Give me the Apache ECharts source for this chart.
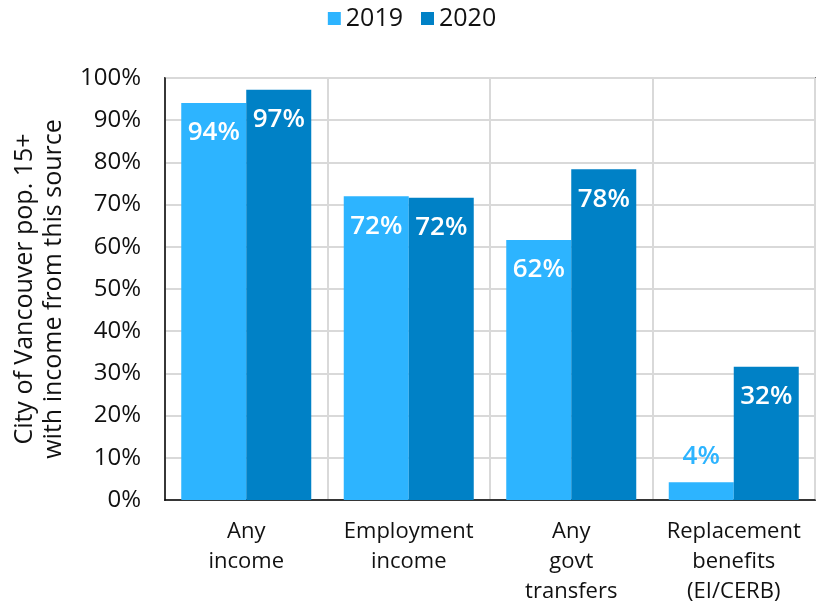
<!DOCTYPE html>
<html><head><meta charset="utf-8">
<script src="https://cdn.jsdelivr.net/npm/echarts@6/dist/echarts.min.js"></script>
<style>html,body{margin:0;padding:0;background:#fff}#c{width:824px;height:604px}</style>
</head><body><div id="c"></div>
<script>
const categories = ['Any\nincome', 'Employment\nincome', 'Any\ngovt\ntransfers', 'Replacement\nbenefits\n(EI/CERB)'];
const seriesNames = ['2019', '2020'];
const values2019 = [94.1, 72.0, 61.6, 4.2];
const values2020 = [97.2, 71.6, 78.4, 31.6];
const yTicks = [0, 10, 20, 30, 40, 50, 60, 70, 80, 90, 100];
const colors = ['#2DB4FF', '#0081C6'];
const FONT = 'Open Sans';

function mkData(vals, color) {
  return vals.map(v => v < 10 ? {
    value: v,
    label: { position: 'top', color: color, distance: 13 }
  } : v);
}

const chart = echarts.init(document.getElementById('c'));
chart.setOption({
  animation: false,
  textStyle: { fontFamily: FONT },
  legend: {
    top: 1, left: 'center',
    itemWidth: 13, itemHeight: 13, itemGap: 18,
    icon: 'rect',
    textStyle: { fontSize: 25, color: '#111', fontFamily: FONT },
    data: seriesNames
  },
  grid: { left: 165, right: 9, top: 78, bottom: 104, show: true, borderColor: '#000', borderWidth: 1.5, outerBoundsMode: 'none', containLabel: false },
  xAxis: {
    type: 'category', data: categories,
    axisLine: { lineStyle: { color: '#000', width: 1.5 } },
    axisTick: { show: false },
    splitLine: { show: true, lineStyle: { color: '#d9d9d9', width: 2 } },
    axisLabel: { fontSize: 22, color: '#111', lineHeight: 30, margin: 17, fontFamily: FONT, interval: 0 }
  },
  yAxis: {
    type: 'value', min: yTicks[0], max: yTicks[yTicks.length - 1], interval: 10,
    name: 'City of Vancouver pop. 15+\nwith income from this source',
    nameLocation: 'middle', nameGap: 97, nameRotate: 90,
    nameTextStyle: { fontSize: 25, color: '#111', lineHeight: 29, fontFamily: FONT },
    axisLine: { show: true, lineStyle: { color: '#000', width: 1.5 } },
    axisTick: { show: false },
    splitLine: { show: true, lineStyle: { color: '#d9d9d9', width: 2 } },
    axisLabel: { fontSize: 24, color: '#111', margin: 24, formatter: v => v + '%', fontFamily: FONT }
  },
  series: [
    {
      name: seriesNames[0], type: 'bar', data: mkData(values2019, colors[0]),
      itemStyle: { color: colors[0] }, barGap: '0%', barCategoryGap: '20%',
      label: { show: true, position: 'insideTop', distance: 17, color: '#fff', fontSize: 26, fontWeight: 600, fontFamily: FONT, formatter: p => Math.round(p.value) + '%' }
    },
    {
      name: seriesNames[1], type: 'bar', data: mkData(values2020, colors[1]),
      itemStyle: { color: colors[1] }, barGap: '0%', barCategoryGap: '20%',
      label: { show: true, position: 'insideTop', distance: 17, color: '#fff', fontSize: 26, fontWeight: 600, fontFamily: FONT, formatter: p => Math.round(p.value) + '%' }
    }
  ]
});
</script></body></html>
